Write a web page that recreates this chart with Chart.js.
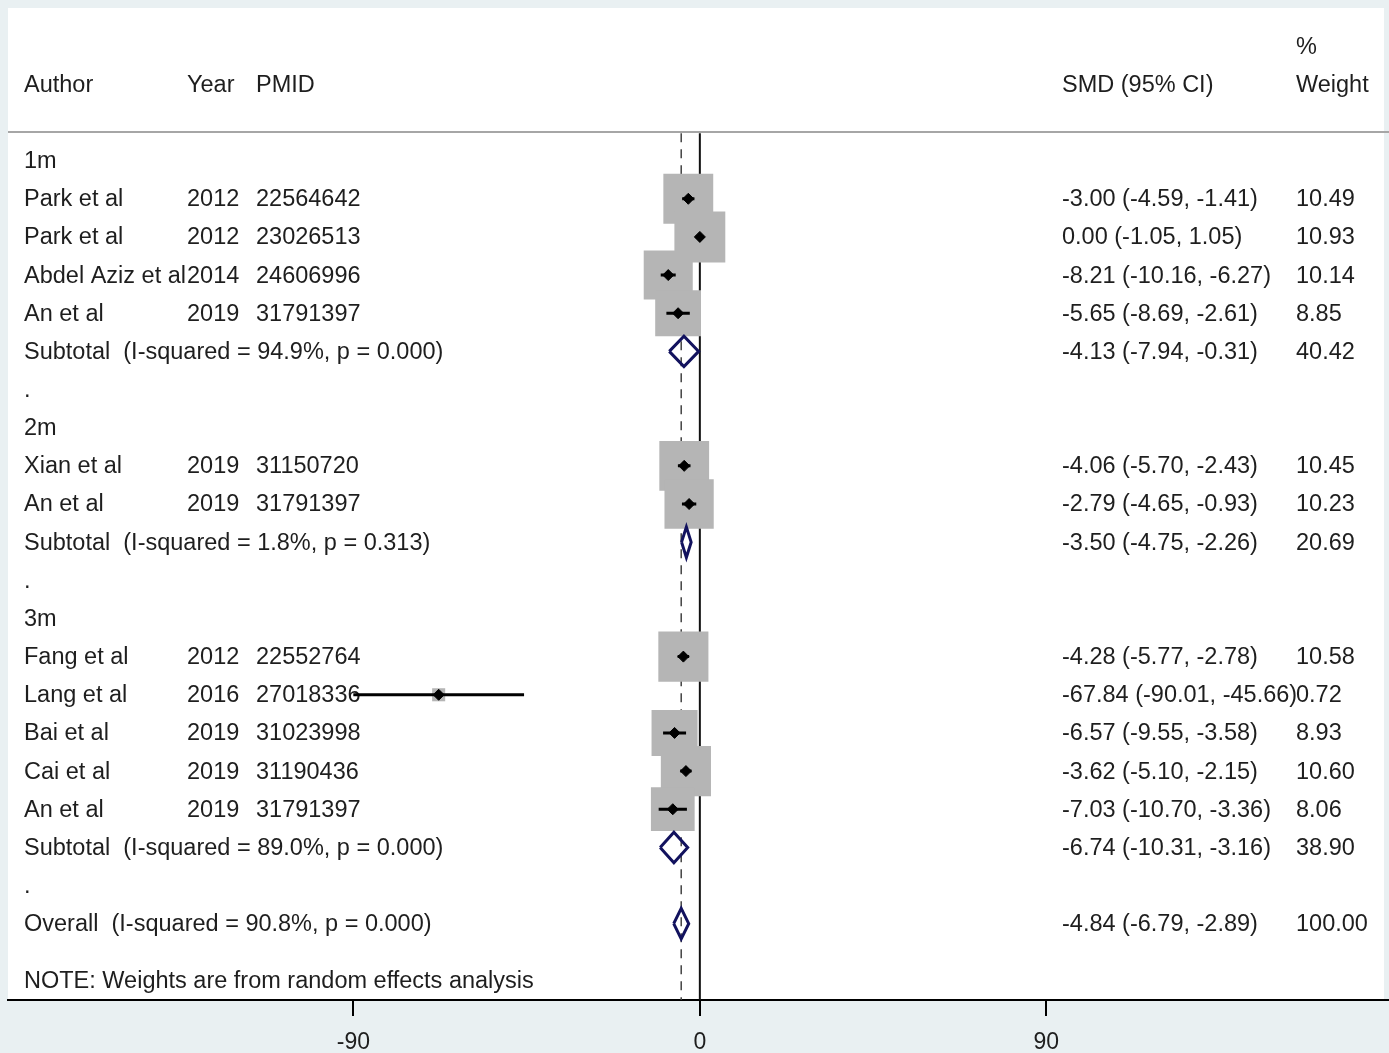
<!DOCTYPE html>
<html>
<head>
<meta charset="utf-8">
<title>Forest plot</title>
<script src="https://cdn.jsdelivr.net/npm/chart.js@4"></script>
<style>
  html, body { margin: 0; padding: 0; background: #e9f0f2; }
  canvas { display: block; }
</style>
</head>
<body>
<canvas id="forest" width="1389" height="1053"></canvas>
<script>
// Studies, grouped by follow-up time
const groups = ['1m', '2m', '3m'];
const studyGroup = [0, 0, 0, 0, 1, 1, 2, 2, 2, 2, 2];
const authors = ['Park et al', 'Park et al', 'Abdel Aziz et al', 'An et al',
  'Xian et al', 'An et al',
  'Fang et al', 'Lang et al', 'Bai et al', 'Cai et al', 'An et al'];
const years = [2012, 2012, 2014, 2019, 2019, 2019, 2012, 2016, 2019, 2019, 2019];
const pmids = ['22564642', '23026513', '24606996', '31791397',
  '31150720', '31791397',
  '22552764', '27018336', '31023998', '31190436', '31791397'];
const smd = [-3.00, 0.00, -8.21, -5.65, -4.06, -2.79, -4.28, -67.84, -6.57, -3.62, -7.03];
const ciLow = [-4.59, -1.05, -10.16, -8.69, -5.70, -4.65, -5.77, -90.01, -9.55, -5.10, -10.70];
const ciHigh = [-1.41, 1.05, -6.27, -2.61, -2.43, -0.93, -2.78, -45.66, -3.58, -2.15, -3.36];
const weights = [10.49, 10.93, 10.14, 8.85, 10.45, 10.23, 10.58, 0.72, 8.93, 10.60, 8.06];

// Pooled estimates per group
const subSmd = [-4.13, -3.50, -6.74];
const subLow = [-7.94, -4.75, -10.31];
const subHigh = [-0.31, -2.26, -3.16];
const subWeight = [40.42, 20.69, 38.90];
const subI2 = [94.9, 1.8, 89.0];
const subP = [0.000, 0.313, 0.000];

// Overall pooled estimate
const overall = { smd: -4.84, low: -6.79, high: -2.89, weight: 100.00, i2: 90.8, p: 0.000 };

const xTicks = [-90, 0, 90];

// Row layout: group label, studies, subtotal, spacer; then overall
const studyRow = [];
const groupRow = [];
const subRow = [];
const spacerRow = [];
let row = 0;
groups.forEach((g, gi) => {
  groupRow[gi] = row++;
  studyGroup.forEach((sg, i) => { if (sg === gi) studyRow[i] = row++; });
  subRow[gi] = row++;
  spacerRow[gi] = row++;
});
const overallRow = row;

const FAMILY = '"Liberation Sans", Arial, sans-serif';
const FONT = '23.5px ' + FAMILY;
const TEXT = '#1e1e1e';
const NAVY = '#12125e';
const DIAMOND_H = 0.4;

const f2 = v => v.toFixed(2);
const ciText = (m, lo, hi) => `${f2(m)} (${f2(lo)}, ${f2(hi)})`;
const hetText = (label, i2, p) => `${label}  (I-squared = ${i2.toFixed(1)}%, p = ${p.toFixed(3)})`;

// box side grows with the square root of the weight (area ~ weight)
const boxSide = w => 15.4 * Math.sqrt(w);

const ciSegments = [];
smd.forEach((m, i) => {
  ciSegments.push({ x: ciLow[i], y: studyRow[i] }, { x: ciHigh[i], y: studyRow[i] }, { x: null, y: null });
});

const diamond = (m, lo, hi, r) => [
  { x: lo, y: r }, { x: m, y: r - DIAMOND_H }, { x: hi, y: r },
  { x: m, y: r + DIAMOND_H }, { x: lo, y: r }, { x: null, y: null }
];
const diamonds = [];
subSmd.forEach((m, gi) => diamonds.push(...diamond(m, subLow[gi], subHigh[gi], subRow[gi])));
diamonds.push(...diamond(overall.smd, overall.low, overall.high, overallRow));

const tablePlugin = {
  id: 'forestTable',
  beforeDraw(chart) {
    const { ctx, chartArea: a } = chart;
    ctx.save();
    ctx.fillStyle = '#fff';
    ctx.fillRect(a.left, a.top, a.right - a.left - 5, a.bottom - a.top);
    ctx.restore();
  },
  beforeDatasetsDraw(chart) {
    const { ctx, chartArea: a, scales: { y } } = chart;
    const col = { author: a.left + 16, year: a.left + 179, pmid: a.left + 248, est: a.left + 1054, wt: a.left + 1288 };
    ctx.save();
    // header rule
    ctx.strokeStyle = '#a6a6a6';
    ctx.lineWidth = 2;
    const ry = y.getPixelForValue(-0.75);
    ctx.beginPath();
    ctx.moveTo(a.left, ry);
    ctx.lineTo(a.right, ry);
    ctx.stroke();

    ctx.font = FONT;
    ctx.fillStyle = TEXT;
    ctx.textBaseline = 'middle';
    const put = (txt, x, r) => ctx.fillText(txt, x, y.getPixelForValue(r) + 1);

    put('Author', col.author, -2);
    put('Year', col.year, -2);
    put('PMID', col.pmid, -2);
    put('SMD (95% CI)', col.est, -2);
    put('%', col.wt, -3);
    put('Weight', col.wt, -2);

    groups.forEach((g, gi) => {
      put(g, col.author, groupRow[gi]);
      put(hetText('Subtotal', subI2[gi], subP[gi]), col.author, subRow[gi]);
      put(ciText(subSmd[gi], subLow[gi], subHigh[gi]), col.est, subRow[gi]);
      put(f2(subWeight[gi]), col.wt, subRow[gi]);
      put('.', col.author, spacerRow[gi]);
    });
    authors.forEach((name, i) => {
      const r = studyRow[i];
      put(name, col.author, r);
      put(String(years[i]), col.year, r);
      put(pmids[i], col.pmid, r);
      put(ciText(smd[i], ciLow[i], ciHigh[i]), col.est, r);
      put(f2(weights[i]), col.wt, r);
    });
    put(hetText('Overall', overall.i2, overall.p), col.author, overallRow);
    put(ciText(overall.smd, overall.low, overall.high), col.est, overallRow);
    put(f2(overall.weight), col.wt, overallRow);
    put('NOTE: Weights are from random effects analysis', col.author, overallRow + 1.5);
    ctx.restore();
  }
};

new Chart(document.getElementById('forest'), {
  type: 'scatter',
  data: {
    datasets: [
      {
        // pooled diamonds
        data: diamonds,
        showLine: true,
        spanGaps: false,
        borderColor: NAVY,
        borderWidth: 3,
        borderJoinStyle: 'miter',
        pointRadius: 0,
        fill: false,
        order: 1
      },
      {
        // point estimates
        data: smd.map((m, i) => ({ x: m, y: studyRow[i] })),
        pointStyle: 'rectRot',
        pointRadius: 5.5,
        backgroundColor: '#000',
        borderColor: '#000',
        borderWidth: 1,
        order: 2
      },
      {
        // confidence intervals
        data: ciSegments,
        showLine: true,
        spanGaps: false,
        borderColor: '#000',
        borderWidth: 3,
        pointRadius: 0,
        order: 3
      },
      {
        // weight boxes
        data: smd.map((m, i) => ({ x: m, y: studyRow[i], w: weights[i] })),
        pointStyle: 'rect',
        pointRadius: c => boxSide(c.raw.w) / Math.SQRT2,
        backgroundColor: '#b5b5b5',
        borderWidth: 0,
        order: 4
      },
      {
        // overall effect reference (dashed)
        data: [{ x: overall.smd, y: -0.72 }, { x: overall.smd, y: 22 }],
        showLine: true,
        borderColor: '#444',
        borderWidth: 1.5,
        borderDash: [9, 7],
        pointRadius: 0,
        order: 5
      },
      {
        // line of no effect
        data: [{ x: 0, y: -0.72 }, { x: 0, y: 22 }],
        showLine: true,
        borderColor: '#111',
        borderWidth: 2,
        pointRadius: 0,
        order: 6
      }
    ]
  },
  options: {
    responsive: false,
    animation: false,
    events: [],
    layout: { autoPadding: false, padding: { left: 8, top: 8, right: 0, bottom: 0 } },
    plugins: { legend: { display: false }, tooltip: { enabled: false } },
    scales: {
      x: {
        type: 'linear',
        min: -179.7,
        max: 179,
        afterBuildTicks: s => { s.ticks = xTicks.map(v => ({ value: v })); },
        afterFit: s => { s.height = 53; },
        grid: { drawOnChartArea: false, tickLength: 16, color: '#000', lineWidth: 2 },
        border: { display: true, color: '#000', width: 2 },
        ticks: {
          color: TEXT,
          padding: 13,
          maxRotation: 0,
          font: { family: FAMILY, size: 23 }
        }
      },
      y: { type: 'linear', min: -4, max: 22, reverse: true, display: false }
    }
  },
  plugins: [tablePlugin]
});
</script>
</body>
</html>
